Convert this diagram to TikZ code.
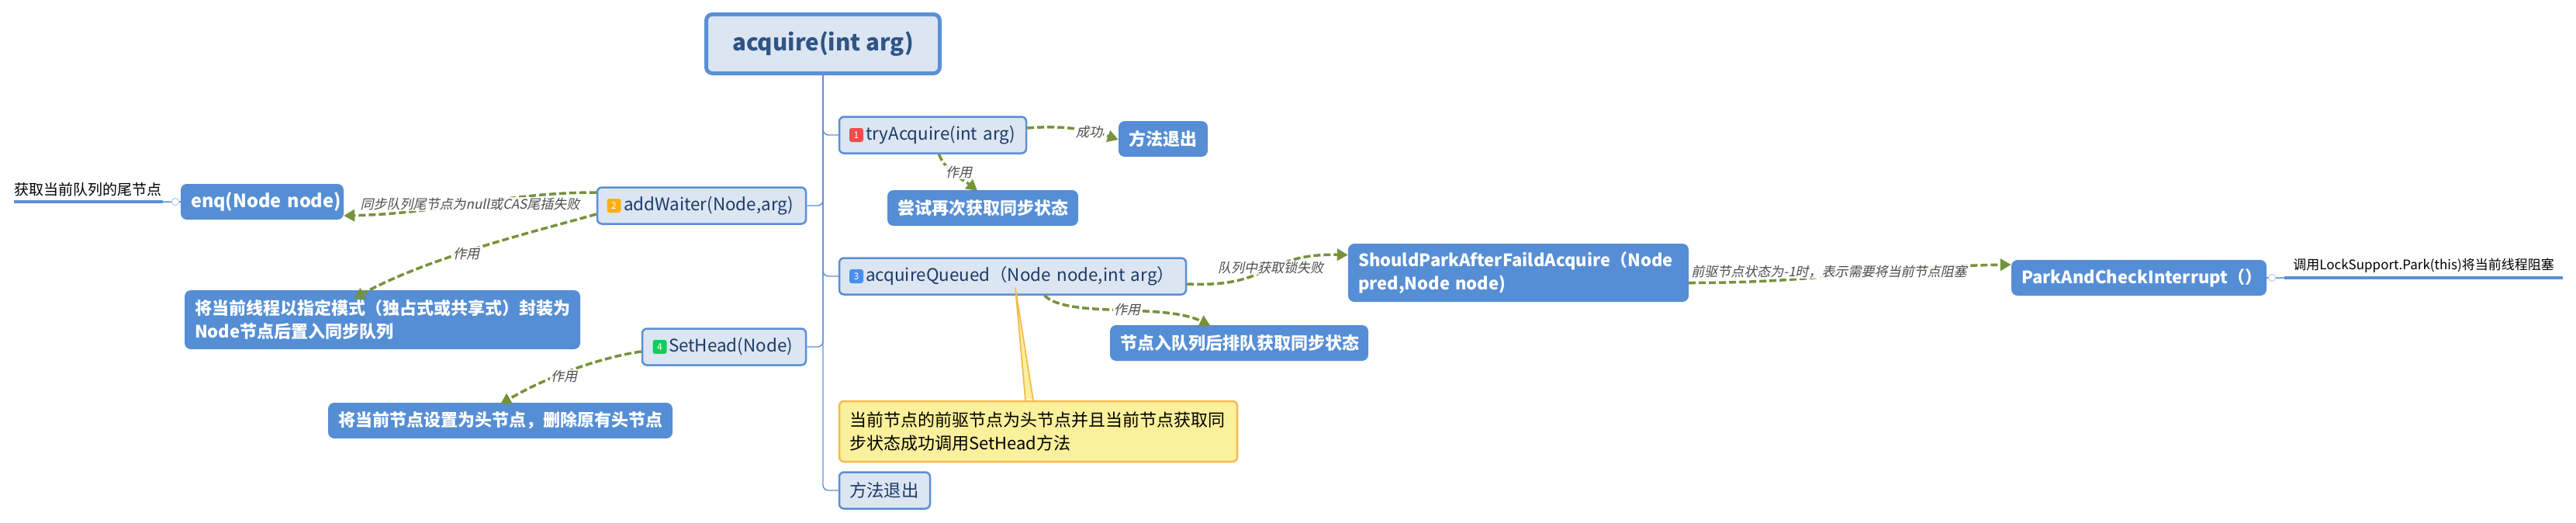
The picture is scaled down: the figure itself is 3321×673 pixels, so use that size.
\documentclass[tikz,border=0pt]{standalone}
\usepackage{fontspec}
\setmainfont{Noto Sans CJK SC}
\newfontfamily\labfont[FakeSlant=0.22]{Noto Sans CJK SC}
\usetikzlibrary{arrows.meta}
\definecolor{bluefill}{HTML}{558ED5}
\definecolor{lightfill}{HTML}{DCE6F2}
\definecolor{bordblue}{HTML}{5B8FD6}
\definecolor{darktext}{HTML}{1D3A66}
\definecolor{roottext}{HTML}{2F5485}
\definecolor{olive}{HTML}{76923C}
\definecolor{noteFill}{HTML}{FBF09B}
\definecolor{noteEdge}{HTML}{F2BC50}
\definecolor{badgeA}{HTML}{EE4D4D}
\definecolor{badgeB}{HTML}{FFB010}
\definecolor{badgeC}{HTML}{4A8FF0}
\definecolor{badgeD}{HTML}{12CC5C}
\tikzset{
 x=1pt,y=-1pt,
 rootbox/.style={draw=bordblue,line width=5pt,fill=lightfill,rounded corners=8pt,text=roottext,font=\fontsize{29.5}{34}\selectfont\bfseries,minimum width=301pt,minimum height=76pt,inner sep=0pt},
 topicbox/.style={draw=bordblue,line width=2.5pt,fill=lightfill,rounded corners=6pt,text=darktext,font=\fontsize{22.4}{30}\selectfont,inner ysep=0pt,inner xsep=13pt,align=left,minimum height=47pt},
 solidbox/.style={fill=bluefill,rounded corners=8pt,text=white,font=\fontsize{22}{30}\selectfont\bfseries,inner ysep=0pt,inner xsep=13pt,align=left},
 notebox/.style={draw=noteEdge,line width=2.5pt,fill=noteFill,rounded corners=6pt,text=black,font=\fontsize{22}{30}\selectfont,inner ysep=0pt,inner xsep=13pt,align=left},
 badge/.style={rounded corners=3pt,minimum width=18pt,minimum height=18pt,inner sep=0pt,text=white,font=\fontsize{12}{12}\selectfont},
 rel/.style={draw=olive,line width=3.5pt,dash pattern=on 9pt off 4pt,-{Triangle[length=14pt,width=15pt]}},
 rellabel/.style={fill=white,fill opacity=0.88,text opacity=1,text=black!70,inner sep=1pt,font=\fontsize{17}{20}\selectfont\labfont},
 branch/.style={draw=bordblue,line width=1.4pt,rounded corners=7pt},
 leaf/.style={inner sep=0pt,text=black,minimum height=32pt},
 leafline/.style={draw=bordblue,line width=3.5pt},
 stub/.style={draw=bordblue,line width=1.4pt},
 knob/.style={circle,draw=bordblue!40,line width=1.2pt,fill=white,minimum size=9pt,inner sep=0pt},
}
\begin{document}
\begin{tikzpicture}
\useasboundingbox (0,0) rectangle (3321,673);
% main nodes
\node[rootbox] (root) at (1061,56.5) {acquire(int arg)};
\node[topicbox,text width=215pt] (try) at (1202.5,174) {\mbox{\hspace*{21pt}tryAcquire(int arg)}};
\node[topicbox,text width=243pt] (waiter) at (904.5,265) {\mbox{\hspace*{21pt}addWaiter(Node,arg)}};
\node[topicbox,text width=421pt] (acq) at (1305.5,356) {\mbox{\hspace*{21pt}acquireQueued（Node node,int arg）}};
\node[topicbox,text width=185pt] (head) at (933.5,447) {\mbox{\hspace*{21pt}SetHead(Node)}};
\node[topicbox,text width=91pt] (exit) at (1140.5,632) {方法退出};
\node[solidbox,text width=89pt,minimum height=46pt] (ok) at (1499.5,179) {方法退出};
\node[solidbox,text width=220pt,minimum height=46pt] (retry) at (1267,268) {尝试再次获取同步状态};
\node[solidbox,text width=184pt,minimum height=46pt,font=\fontsize{23.5}{30}\selectfont\bfseries] (enq) at (338,260) {\mbox{enq(Node node)}};
\node[solidbox,text width=484pt,minimum height=76pt] (wrap) at (493,412) {将当前线程以指定模式（独占式或共享式）封装为\\Node节点后置入同步队列};
\node[solidbox,text width=418pt,minimum height=46pt] (sethd) at (645,542) {将当前节点设置为头节点，删除原有头节点};
\node[solidbox,text width=307pt,minimum height=46pt] (queue) at (1597.5,442) {节点入队列后排队获取同步状态};
\node[solidbox,text width=413pt,minimum height=75pt] (should) at (1957.5,351.5) {\mbox{ShouldParkAfterFaildAcquire（Node}\\pred,Node node)};
\node[solidbox,text width=303pt,minimum height=46pt] (park) at (2757.5,358) {\mbox{ParkAndCheckInterrupt（）}};
\node[notebox,text width=487pt,minimum height=78pt] (note) at (1338.5,556) {当前节点的前驱节点为头节点并且当前节点获取同\\步状态成功调用SetHead方法};
% badges
\node[badge,fill=badgeA] (b1) at (1104,174) {1};
\node[badge,fill=badgeB] (b2) at (791.5,265) {2};
\node[badge,fill=badgeC] (b3) at (1104,356) {3};
\node[badge,fill=badgeD] (b4) at (850.5,447) {4};
% tree branches
\draw[branch] (root.south) |- (try.west);
\draw[branch] (root.south) |- (waiter.east);
\draw[branch] (root.south) |- (acq.west);
\draw[branch] (root.south) |- (head.east);
\draw[branch] (root.south) |- (exit.west);
% note tail
\fill[noteFill] ([xshift=3.5pt,yshift=10pt]acq.south) -- ([xshift=-16.5pt,yshift=1.5pt]note.north) -- ([xshift=-6.5pt,yshift=1.5pt]note.north) -- cycle;
\draw[noteEdge,line width=1.8pt] ([xshift=-16.5pt]note.north) -- ([xshift=3.5pt,yshift=10pt]acq.south) -- ([xshift=-6.5pt]note.north);
% relationships
\draw[rel] ([yshift=9pt]try.east) .. controls +(50,-4) and +(-35,-12) .. ([yshift=-1pt]ok.west);
\draw[rel] ([xshift=8pt]try.south) .. controls +(8,22) and +(-15,-12) .. ([xshift=-7pt,yshift=-1pt]retry.north);
\draw[rel] ([yshift=17pt]waiter.west) .. controls +(-120,0) and +(130,-3) .. ([yshift=-18pt]enq.east);
\draw[rel] ([yshift=-11pt]waiter.west) .. controls +(-70,20) and +(100,-55) .. ([xshift=-37pt,yshift=-11pt]wrap.north);
\draw[rel] ([yshift=-6pt]head.west) .. controls +(-55,8) and +(60,-35) .. ([yshift=-2pt]sethd.north);
\draw[rel] ([yshift=-10pt]acq.east) .. controls +(110,5) and +(-110,-2) .. ([yshift=23pt]should.west);
\draw[rel] ([xshift=41pt]acq.south) .. controls +(30,30) and +(-60,-30) .. ([xshift=-37pt,yshift=-1pt]queue.north);
\draw[rel] ([yshift=-13pt]should.east) .. controls +(180,0) and +(-180,3) .. ([yshift=17pt]park.west);
% relationship labels
\node[rellabel] (l1) at (1404,170) {成功};
\node[rellabel] (l2) at (1236,222) {作用};
\node[rellabel] (l3) at (606,263) {同步队列尾节点为null或CAS尾插失败};
\node[rellabel] (l4) at (601,327) {作用};
\node[rellabel] (l5) at (727,485) {作用};
\node[rellabel] (l6) at (1638,345) {队列中获取锁失败};
\node[rellabel] (l7) at (1453,399) {作用};
\node[rellabel] (l8) at (2358,350) {前驱节点状态为-1时，表示需要将当前节点阻塞};
% leaf notes
\node[leaf,minimum width=192pt,font=\fontsize{19}{22}\selectfont] (tailtxt) at (114,244) {获取当前队列的尾节点};
\draw[leafline] (tailtxt.south west) -- (tailtxt.south east);
\node[knob] (k1) at (226,260) {};
\draw[stub] (enq.west) -- (k1);
\draw[stub] (k1) -- (tailtxt.south east);
\node[leaf,minimum width=359pt,font=\fontsize{17}{22}\selectfont] (parktxt) at (3124.5,342) {调用LockSupport.Park(this)将当前线程阻塞};
\draw[leafline] (parktxt.south west) -- (parktxt.south east);
\node[knob] (k2) at (2929,358) {};
\draw[stub] (park.east) -- (k2);
\draw[stub] (k2) -- (parktxt.south west);
\end{tikzpicture}
\end{document}
